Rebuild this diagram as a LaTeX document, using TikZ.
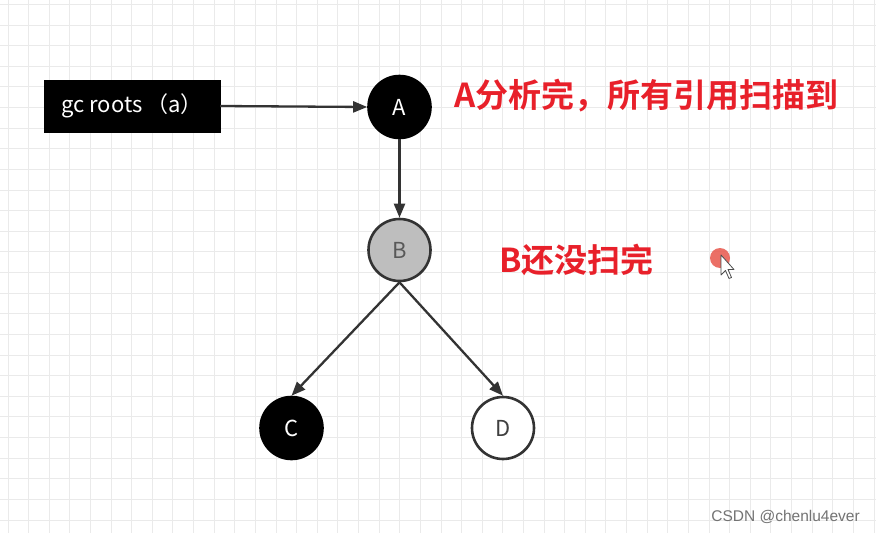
\documentclass[tikz,border=0pt]{standalone}
\usepackage{fontspec}
\usetikzlibrary{arrows.meta}
\newfontfamily\cjk{Noto Sans CJK SC}[BoldFont={Noto Sans CJK SC Bold}]
\newfontfamily\wmfont{Liberation Sans}
\definecolor{gridc}{HTML}{EAEAEA}
\definecolor{edgec}{HTML}{333333}
\definecolor{redc}{HTML}{E8202A}
\definecolor{bgray}{HTML}{BEBEBE}
\definecolor{dotc}{HTML}{E8564C}
\tikzset{
  gridline/.style={draw=gridc, line width=1pt},
  rootbox/.style={draw=black, fill=black, text=white, minimum width=176pt, minimum height=52pt, inner sep=0pt, font=\cjk\fontsize{22}{26}\selectfont},
  circ/.style={circle, line width=2.6pt, minimum size=62pt, inner sep=0pt, font=\cjk\fontsize{22}{24}\selectfont},
  edge/.style={draw=edgec, line width=2.3pt, -{Triangle[length=14pt,width=11pt]}},
  redtxt/.style={text=redc, inner sep=0pt, font=\cjk\bfseries\fontsize{33}{36}\selectfont},
}
\begin{document}
\begin{tikzpicture}[x=1pt,y=-1pt]
\useasboundingbox (0,0) rectangle (876,533);
\fill[white] (0,0) rectangle (876,533);
\foreach \i in {0,...,42} \draw[gridline] ({8+\i*20.62},0) -- ({8+\i*20.62},533);
\foreach \j in {0,...,25} \draw[gridline] (0,{4.5+\j*20.62}) -- (876,{4.5+\j*20.62});

\node[rootbox] (g) at (132,106) {gc roots\,（a）};
\node[circ, draw=black, fill=black, text=white] (A) at (399.5,107) {A};
\node[circ, draw=edgec, fill=bgray, text=black!65] (B) at (399.5,250) {B};
\node[circ, draw=black, fill=black, text=white] (C) at (291.5,428) {C};
\node[circ, draw=edgec, fill=white, text=black!75] (D) at (503,428) {D};

\draw[edge] (g.east) -- (A.west);
\draw[edge] (A.south) -- (B.north);
\draw[edge] (B.south) -- (C.north);
\draw[edge] (B.south) -- (D.north);

\node[redtxt, anchor=west] (tA) at (454,96) {A分析完，所有引用扫描到};
\node[redtxt, anchor=west] (tB) at (499,260) {B还没扫完};

\fill[dotc, opacity=0.85] (720,258) circle (10);
\draw[black!70, fill=white, line width=0.8pt, line join=round]
  (721,255) -- (721,275) -- (725.5,270.5) -- (729,278.5) -- (731.5,277.5) -- (728,269.5) -- (734,269.5) -- cycle;

\node[anchor=east, text=black!55, inner sep=0pt, font=\wmfont\fontsize{15.5}{18}\selectfont] (wm) at (860,517) {CSDN @chenlu4ever};
\end{tikzpicture}
\end{document}
